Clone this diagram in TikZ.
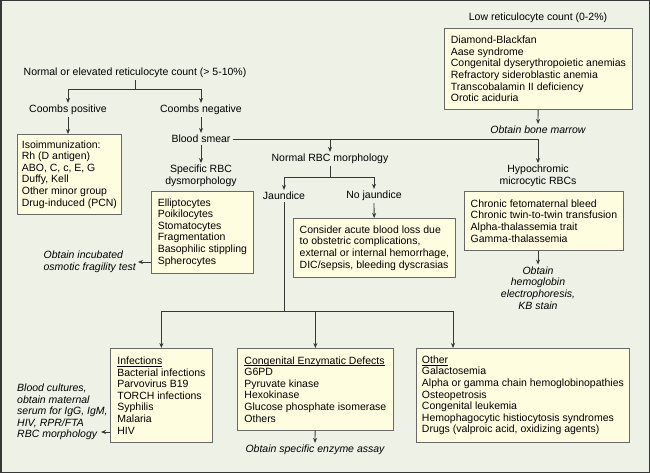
\documentclass[tikz,border=0pt]{standalone}
\usepackage{fontspec}
\setmainfont{Liberation Sans}
\usetikzlibrary{arrows.meta,positioning}
\definecolor{bgfill}{RGB}{238,241,230}
\definecolor{boxfill}{RGB}{255,253,224}
\definecolor{boxline}{RGB}{105,105,105}
\definecolor{linkc}{RGB}{55,55,55}
\newcommand{\ftsz}{\fontsize{10.5}{11.6}\selectfont}
\newlength{\hdrlen}
\newcommand{\hdr}[1]{\settowidth{\hdrlen}{#1}\rlap{\rule[-1.7pt]{\hdrlen}{0.5pt}}#1}

\begin{document}
\begin{tikzpicture}[x=1pt,y=-1pt,
  txt/.style={font=\ftsz,align=center,inner sep=2pt},
  note/.style={txt,font=\ftsz\itshape},
  box/.style={draw=boxline,fill=boxfill,line width=0.8pt,font=\ftsz,align=left,inner sep=0pt,anchor=north west},
  lnk/.style={draw=linkc,line width=0.8pt},
  arr/.style={lnk,-{Stealth[length=5pt,width=4pt]}}]
\useasboundingbox (0,0) rectangle (650,473);
\fill[bgfill] (0,0) rectangle (650,473);
\draw[linkc,line width=1.5pt] (0.75,0.75) rectangle (649.25,472.25);
% left branch
\node[txt] (nrc) at (135,73) {Normal or elevated reticulocyte count (> 5-10\%)};
\node[txt] (cpos) at (68,110) {Coombs positive};
\node[txt] (cneg) at (201,110) {Coombs negative};
\node[txt] (smear) at (201,139) {Blood smear};
\node[box,minimum width=104pt,minimum height=80pt] (iso) at (17,134)
  {Isoimmunization:\\Rh (D antigen)\\ABO, C, c, E, G\\Duffy, Kell\\Other minor group\\Drug-induced (PCN)};
\node[txt] (specl) at (201,176) {Specific RBC\\dysmorphology};
\node[box,minimum width=102pt,minimum height=82pt] (spec) at (151,191)
  {Elliptocytes\\Poikilocytes\\Stomatocytes\\Fragmentation\\Basophilic stippling\\Spherocytes};
\node[note,align=left,anchor=east] (osm) at (138,262) {Obtain incubated\\osmotic fragility test};
% normal morphology
\node[txt] (nrbc) at (330,159) {Normal RBC morphology};
\node[txt] (jaun) at (284,196) {Jaundice};
\node[txt] (nojaun) at (374,196) {No jaundice};
\node[box,minimum width=162pt,minimum height=59pt] (cons) at (293,218)
  {Consider acute blood loss due\\to obstetric complications,\\external or internal hemorrhage,\\DIC/sepsis, bleeding dyscrasias};
% right branch
\node[txt] (lowl) at (538,18) {Low reticulocyte count (0-2\%)};
\node[box,minimum width=188pt,minimum height=81pt] (lowb) at (444,28)
  {Diamond-Blackfan\\Aase syndrome\\Congenital dyserythropoietic anemias\\Refractory sideroblastic anemia\\Transcobalamin II deficiency\\Orotic aciduria};
\node[note] (bmn) at (538,130) {Obtain bone marrow};
\node[txt] (hypl) at (538,176) {Hypochromic\\microcytic RBCs};
\node[box,minimum width=159pt,minimum height=59pt] (hypo) at (464,191)
  {Chronic fetomaternal bleed\\Chronic twin-to-twin transfusion\\Alpha-thalassemia trait\\Gamma-thalassemia};
\node[note] (hbn) at (538,288) {Obtain\\hemoglobin\\electrophoresis,\\KB stain};
% jaundice causes
\node[box,minimum width=102pt,minimum height=94pt] (inf) at (110,348)
  {\hdr{Infections}\\Bacterial infections\\Parvovirus B19\\TORCH infections\\Syphilis\\Malaria\\HIV};
\node[note,align=left,anchor=west,inner sep=0pt] (bcn) at (17,412)
  {Blood cultures,\\obtain maternal\\serum for IgG, IgM,\\HIV, RPR/FTA\\RBC morphology};
\coordinate (bcx) at (101,432);
\node[box,minimum width=156pt,minimum height=82pt] (cong) at (237,348)
  {\hdr{Congenital Enzymatic Defects}\\G6PD\\Pyruvate kinase\\Hexokinase\\Glucose phosphate isomerase\\Others};
\node[note] (enz) at (315,450) {Obtain specific enzyme assay};
\node[box,minimum width=213pt,minimum height=94pt] (oth) at (416,348)
  {\hdr{Other}\\Galactosemia\\Alpha or gamma chain hemoglobinopathies\\Osteopetrosis\\Congenital leukemia\\Hemophagocytic histiocytosis syndromes\\Drugs (valproic acid, oxidizing agents)};
% connectors
\coordinate (j1) at (135,89);
\coordinate (j2) at (330,177);
\coordinate (j3) at (284,311);
\draw[lnk] (nrc) -- (j1);
\foreach \t in {cpos,cneg} \draw[arr] (j1) -| (\t);
\draw[arr] (cpos) -- (cpos |- iso.north);
\draw[arr] (cneg) -- (smear);
\draw[arr] (smear) -- (specl);
\draw[arr] (smear) -| (hypl);
\draw[arr] (smear -| nrbc) -- (nrbc);
\draw[arr] (spec.west |- osm.east) -- (osm.east);
\draw[lnk] (nrbc) -- (j2);
\foreach \t in {jaun,nojaun} \draw[arr] (j2) -| (\t);
\draw[arr] (nojaun) -- (cons);
\draw[lnk] (jaun) -- (j3);
\foreach \t in {inf,cong} \draw[arr] (j3) -| (\t);
\draw[arr] (j3) -| ([xshift=37pt]oth.north west);
\draw[arr] (inf.west |- bcx) -- (bcx);
\draw[arr] (cong) -- (enz);
\draw[arr] (lowb) -- (bmn);
\draw[arr] (hypo.south -| hypl) -- (hbn);
\end{tikzpicture}
\end{document}
